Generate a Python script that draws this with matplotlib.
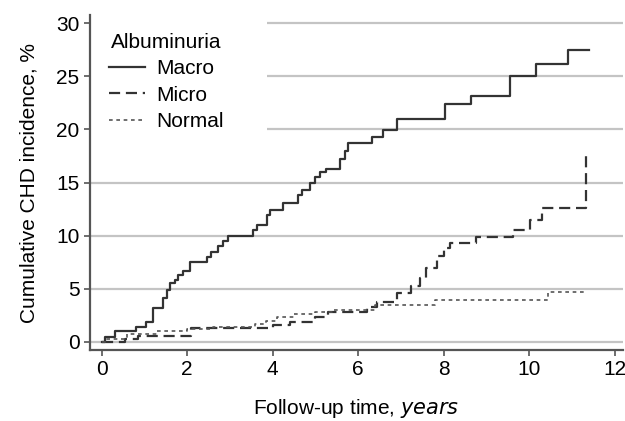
import matplotlib
matplotlib.use("Agg")
import matplotlib.pyplot as plt
from matplotlib.patches import Rectangle

# step times (years) and cumulative incidence (%)
macro_t = [0, 0.08, 0.31, 0.8, 1.05, 1.21, 1.44, 1.52, 1.6, 1.71, 1.79, 1.9, 2.07, 2.46, 2.55,
           2.73, 2.85, 2.95, 3.55, 3.64, 3.86, 3.94, 4.24, 4.6, 4.68, 4.87, 4.99, 5.1, 5.25,
           5.57, 5.69, 5.77, 6.32, 6.58, 6.9, 8.03, 8.65, 9.55, 10.16, 10.9, 11.4]
macro_y = [0, 0.5, 1.0, 1.4, 1.9, 3.2, 4.1, 4.9, 5.5, 5.8, 6.3, 6.7, 7.5, 8.0, 8.5,
           9.0, 9.5, 10.0, 10.5, 11.0, 11.9, 12.4, 13.1, 13.8, 14.3, 15.0, 15.5, 16.0, 16.3,
           17.2, 18.0, 18.7, 19.3, 19.9, 21.0, 22.4, 23.1, 25.0, 26.2, 27.5, 27.5]

micro_t = [0, 0.55, 0.85, 2.1, 4.0, 4.4, 5.0, 5.3, 6.2, 6.45, 6.9, 7.25, 7.45, 7.6, 7.84,
           8.0, 8.15, 8.75, 9.63, 10.02, 10.3, 11.33, 11.42]
micro_y = [0, 0.25, 0.6, 1.3, 1.6, 1.9, 2.3, 2.8, 3.3, 3.8, 4.6, 5.3, 6.0, 7.0, 8.1,
           8.8, 9.3, 9.9, 10.5, 11.5, 12.6, 17.6, 17.6]

normal_t = [0, 0.1, 0.6, 1.3, 2.0, 2.6, 3.6, 3.85, 4.1, 4.5, 5.0, 5.4, 6.4, 7.8, 10.45, 11.35]
normal_y = [0, 0.3, 0.7, 1.0, 1.2, 1.4, 1.7, 2.0, 2.3, 2.6, 2.8, 3.0, 3.5, 3.9, 4.7, 4.7]

yticks = [0, 5, 10, 15, 20, 25, 30]
xticks = [0, 2, 4, 6, 8, 10, 12]

plt.rcParams['font.family'] = ['Liberation Sans', 'DejaVu Sans']
plt.rcParams['font.size'] = 15

fig = plt.figure(figsize=(6.25, 4.21), dpi=100)
ax = fig.add_axes([0.144, 0.169, 0.853, 0.795])

ax.set_axisbelow(True)
ax.yaxis.grid(True, color='#c4c4c4', linewidth=1.6)

# white block behind the legend hides the grid there
ax.add_patch(Rectangle((0, 0.6), 0.332, 0.4, transform=ax.transAxes,
                       facecolor='white', edgecolor='none', zorder=1))

ax.step(macro_t, macro_y, where='post', color='#333333', linewidth=1.6, label='Macro', zorder=3)
ax.step(micro_t, micro_y, where='post', color='#333333', linewidth=1.6,
        linestyle=(0, (5, 2.6)), label='Micro', zorder=3)
ax.step(normal_t, normal_y, where='post', color='#555555', linewidth=1.2,
        linestyle=(0, (2.2, 2.2)), label='Normal', zorder=3)

ax.set_xlim(-0.27, 12.2)
ax.set_ylim(-0.75, 30.75)
ax.set_xticks(xticks)
ax.set_yticks(yticks)

for s in ['top', 'right']:
    ax.spines[s].set_visible(False)
for s in ['left', 'bottom']:
    ax.spines[s].set_color('#555555')
    ax.spines[s].set_linewidth(1.6)
ax.tick_params(axis='both', colors='#555555', labelcolor='black', length=4.5, width=1.2, pad=3)

ax.set_ylabel('Cumulative CHD incidence, %', labelpad=13)
ax.set_xlabel('Follow-up time, $\\it{years}$', labelpad=13)

leg = ax.legend(title='Albuminuria', loc='upper left', bbox_to_anchor=(0.012, 0.985),
                frameon=False, handlelength=1.75, handletextpad=0.5, labelspacing=0.36,
                borderaxespad=0.2)
leg.get_title().set_fontsize(15)

fig.savefig('out.png', dpi=100)
